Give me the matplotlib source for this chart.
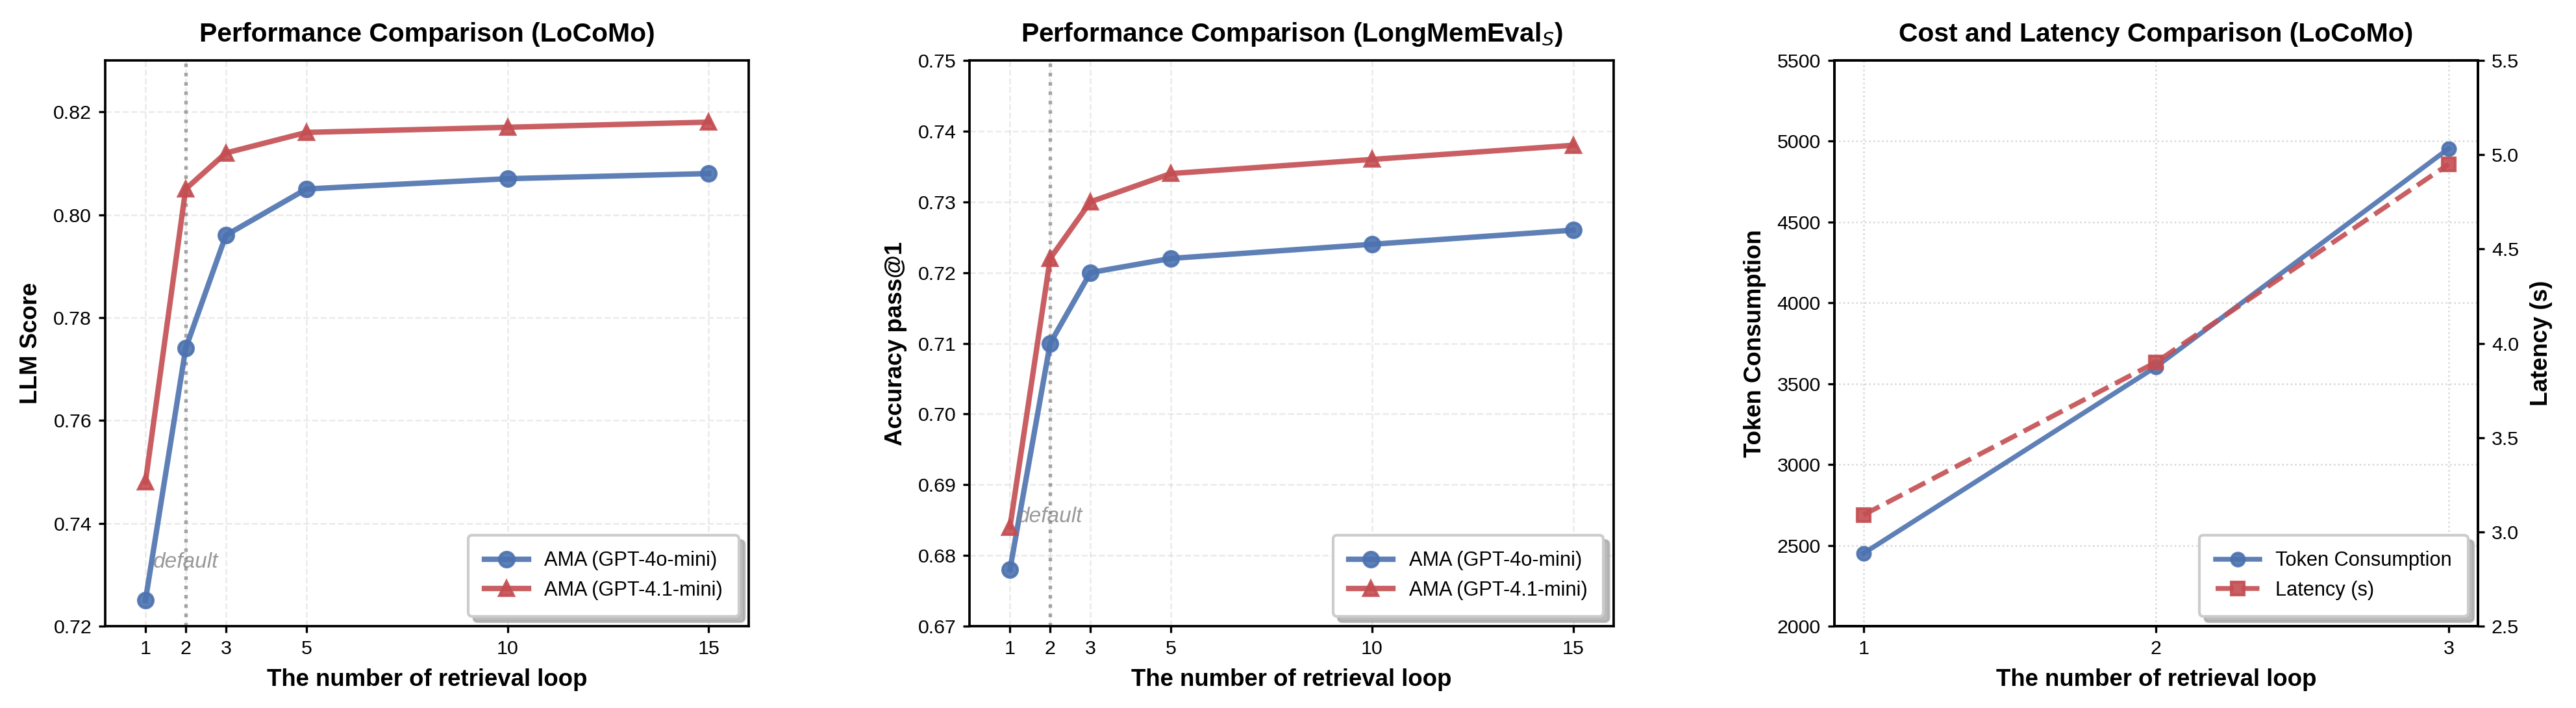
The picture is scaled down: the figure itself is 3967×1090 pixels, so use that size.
import matplotlib
matplotlib.use("Agg")
import matplotlib.pyplot as plt
from matplotlib.ticker import FormatStrFormatter

plt.rcParams['font.family'] = ['Liberation Sans', 'DejaVu Sans']
plt.rcParams['mathtext.fontset'] = 'dejavusans'

# data
loops = [1, 2, 3, 5, 10, 15]
locomo_4o = [0.725, 0.774, 0.796, 0.805, 0.807, 0.808]
locomo_41 = [0.748, 0.805, 0.812, 0.816, 0.817, 0.818]
lme_4o = [0.678, 0.710, 0.720, 0.722, 0.724, 0.726]
lme_41 = [0.684, 0.722, 0.730, 0.734, 0.736, 0.738]

cost_loops = [1, 2, 3]
tokens = [2450, 3605, 4955]
latency = [3.09, 3.90, 4.95]

default_loop = 2
blue = '#4C72B0'
red = '#C44E52'

fig, axes = plt.subplots(1, 3, figsize=(3967 / 300, 1090 / 300), dpi=300)
fig.subplots_adjust(left=162 / 3967, right=3816 / 3967, top=1 - 93 / 1090,
                    bottom=1 - 964 / 1090, wspace=0.343)

legend_kw = dict(loc='lower right', fontsize=7.4, frameon=True, fancybox=True,
                 framealpha=1, edgecolor='#cccccc', borderpad=0.8,
                 handlelength=2.2, shadow={'color': '#aaaaaa', 'alpha': 0.8})


def style_axis(ax):
    for sp in ax.spines.values():
        sp.set_color('black')
        sp.set_linewidth(0.9)
    ax.tick_params(axis='both', labelsize=7.3, length=2.5, width=0.8, pad=2.5)


def perf_panel(ax, y1, y2, ylim, yticks, title, ylabel):
    ax.plot(loops, y1, '-o', color=blue, lw=2, ms=5.5, alpha=0.9,
            label='AMA (GPT-4o-mini)', zorder=3)
    ax.plot(loops, y2, '-^', color=red, lw=2, ms=5.5, alpha=0.9,
            label='AMA (GPT-4.1-mini)', zorder=3)
    ax.axvline(default_loop, color='gray', ls=':', lw=1.3, alpha=0.7, zorder=2)
    ax.text(default_loop, min(y1) + 0.0075, 'default', ha='center', va='center',
            fontsize=8, style='italic', color='gray', alpha=0.8)
    ax.set_xlim(0, 16)
    ax.set_ylim(*ylim)
    ax.set_xticks(loops)
    ax.set_yticks(yticks)
    ax.yaxis.set_major_formatter(FormatStrFormatter('%.2f'))
    ax.grid(True, ls='--', lw=0.6, color='#cccccc', alpha=0.4)
    ax.set_title(title, fontsize=9.8, fontweight='bold', pad=7)
    ax.set_xlabel('The number of retrieval loop', fontsize=8.8, fontweight='bold')
    ax.set_ylabel(ylabel, fontsize=8.8, fontweight='bold')
    ax.legend(**legend_kw)
    style_axis(ax)


perf_panel(axes[0], locomo_4o, locomo_41, (0.72, 0.83),
           [0.72, 0.74, 0.76, 0.78, 0.80, 0.82],
           'Performance Comparison (LoCoMo)', 'LLM Score')
perf_panel(axes[1], lme_4o, lme_41, (0.67, 0.75),
           [0.67, 0.68, 0.69, 0.70, 0.71, 0.72, 0.73, 0.74, 0.75],
           'Performance Comparison (LongMemEval$_S$)', 'Accuracy pass@1')

# cost / latency panel
ax = axes[2]
ax2 = ax.twinx()
l1 = ax.plot(cost_loops, tokens, '-o', color=blue, lw=1.8, ms=4.8, alpha=0.9,
             label='Token Consumption', zorder=3)
l2 = ax2.plot(cost_loops, latency, '--s', color=red, lw=1.8, ms=4.8, alpha=0.9,
              label='Latency (s)', zorder=3)
ax.set_xlim(0.9, 3.1)
ax.set_ylim(2000, 5500)
ax2.set_ylim(2.5, 5.5)
ax.set_xticks(cost_loops)
ax.set_yticks(range(2000, 5501, 500))
ax2.set_yticks([2.5, 3.0, 3.5, 4.0, 4.5, 5.0, 5.5])
ax2.yaxis.set_major_formatter(FormatStrFormatter('%.1f'))
ax.grid(True, ls=':', lw=0.6, color='#bbbbbb', alpha=0.6)
ax.set_title('Cost and Latency Comparison (LoCoMo)', fontsize=9.8,
             fontweight='bold', pad=7)
ax.set_xlabel('The number of retrieval loop', fontsize=8.8, fontweight='bold')
ax.set_ylabel('Token Consumption', fontsize=8.8, fontweight='bold')
ax2.set_ylabel('Latency (s)', fontsize=8.8, fontweight='bold')
lines = l1 + l2
leg = ax2.legend(lines, [l.get_label() for l in lines], **legend_kw)
style_axis(ax)
style_axis(ax2)

fig.savefig('out.png', dpi=300)
